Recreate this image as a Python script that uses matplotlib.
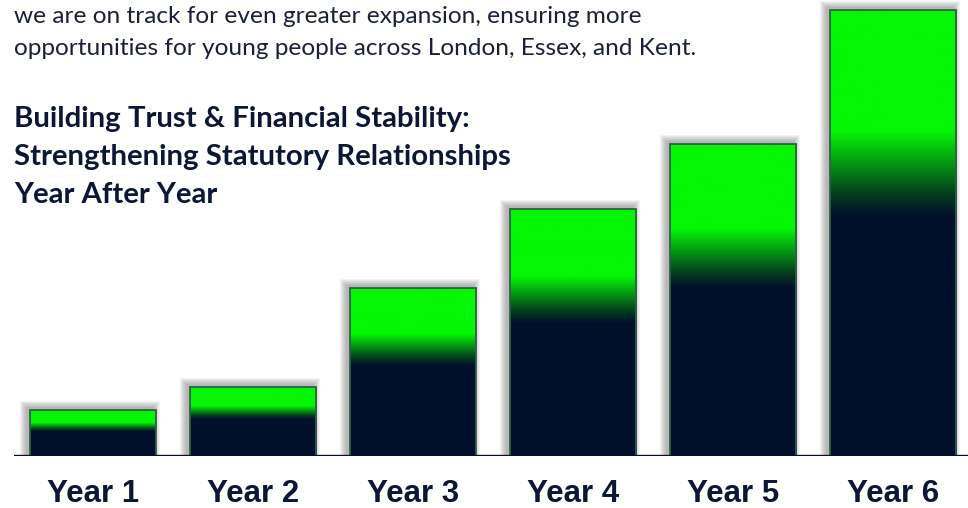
import numpy as np
import matplotlib
matplotlib.use("Agg")
import matplotlib.pyplot as plt
from matplotlib.colors import LinearSegmentedColormap
from matplotlib.patches import Rectangle

# Data (bar heights, baseline = 0)
years = ["Year 1", "Year 2", "Year 3", "Year 4", "Year 5", "Year 6"]
values = [46, 69, 168, 247, 312, 446]

intro_lines = [
    "we are on track for even greater expansion, ensuring more",
    "opportunities for young people across London, Essex, and Kent.",
]
title_lines = [
    "Building Trust & Financial Stability:",
    "Strengthening Statutory Relationships",
    "Year After Year",
]

navy = "#00102a"
text_col = "#0b1735"

# gradient: bright green at the top, fading to navy below
grad_cmap = LinearSegmentedColormap.from_list(
    "greennavy",
    [(0.0, "#05f705"), (0.27, "#05f705"), (0.34, "#049a12"),
     (0.41, "#05401e"), (0.46, navy), (1.0, navy)],
)

W, H = 968, 508
fig = plt.figure(figsize=(W / 100, H / 100), dpi=100)
fig.patch.set_facecolor("white")

# axes: baseline at y=456px, left edge at x=14px
ax_left, ax_base = 14, 456
ax = fig.add_axes([ax_left / W, (H - ax_base) / H, (W - ax_left) / W, ax_base / H])
px_x = 1 / 160.0  # data units per pixel along x
x0 = -79 * px_x
ax.set_xlim(x0, x0 + (W - ax_left) * px_x)
ax.set_ylim(0, ax_base)

bar_w = 126 * px_x
grad = np.linspace(0, 1, 256).reshape(-1, 1)

for i, v in enumerate(values):
    left = i - bar_w / 2
    # soft shadow up and to the left
    for k in range(1, 8):
        ax.add_patch(Rectangle((left - 3 * px_x - k * px_x, -2),
                               bar_w + 2 * k * px_x, v + 4 + k,
                               facecolor="#555555", alpha=0.07,
                               edgecolor="none", zorder=1))
    ax.imshow(grad, extent=[left, left + bar_w, 0, v], aspect="auto",
              cmap=grad_cmap, origin="upper", zorder=2)
    ax.add_patch(Rectangle((left, 0), bar_w, v, facecolor="none",
                           edgecolor="#2f5f48", linewidth=1.3, zorder=3))

ax.set_xlim(x0, x0 + (W - ax_left) * px_x)
ax.set_ylim(0, ax_base)
ax.axhline(0, color=navy, linewidth=1.7, zorder=4)

ax.set_xticks(range(len(years)))
ax.set_xticklabels(years, fontsize=22.5, fontweight="bold",
                   family="Liberation Sans", color=text_col, va="baseline")
ax.tick_params(axis="x", length=0, pad=33)
ax.set_yticks([])
for s in ax.spines.values():
    s.set_visible(False)
ax.patch.set_alpha(0)

# text block top-left
intro_base = [23, 55]
for j, line in enumerate(intro_lines):
    fig.text(14 / W, 1 - intro_base[j] / H, line, fontsize=17.6,
             family="Lato", color="#1a2038", va="baseline", ha="left")
title_base = [127, 165, 203]
for j, line in enumerate(title_lines):
    fig.text(14 / W, 1 - title_base[j] / H, line, fontsize=21.2,
             family="Lato", fontweight="bold", color=text_col,
             va="baseline", ha="left")

fig.savefig("out.png", dpi=100)
